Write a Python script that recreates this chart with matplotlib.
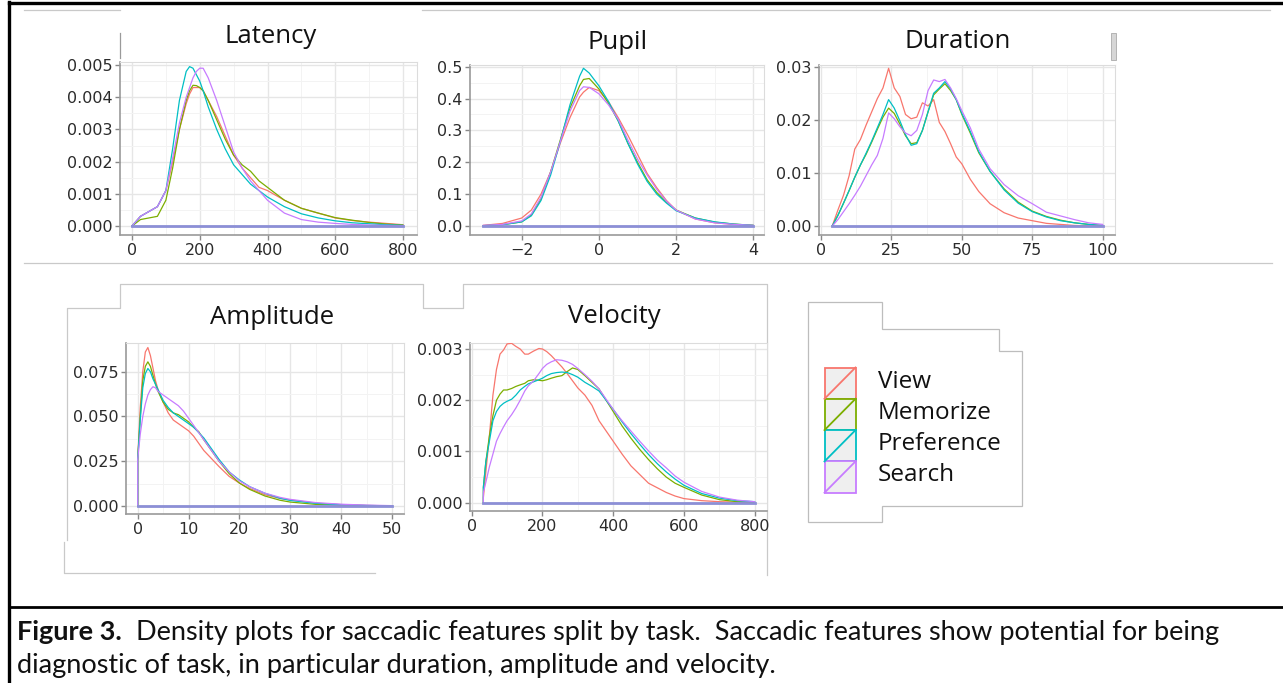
import matplotlib
matplotlib.use("Agg")
import matplotlib.pyplot as plt
from matplotlib.patches import Rectangle, Polygon
from matplotlib.lines import Line2D

W, H = 1283, 683

tasks = ["View", "Memorize", "Preference", "Search"]
task_colors = ["#F8766D", "#7CAE00", "#00BFC4", "#C77CFF"]

# ---- Latency ----
latency_x = [0, 25, 50, 75, 100, 120, 140, 160, 170, 180, 190, 200, 210, 225, 250, 275,
             300, 325, 350, 375, 400, 450, 500, 550, 600, 650, 700, 750, 800]
latency_view = [0, 0.0003, 0.00045, 0.0006, 0.0011, 0.0020, 0.0030, 0.0038, 0.0041, 0.0043,
                0.0043, 0.0043, 0.0042, 0.0039, 0.0034, 0.0028, 0.0022, 0.0018, 0.0015, 0.0012,
                0.0011, 0.0008, 0.00055, 0.0004, 0.00025, 0.00017, 0.00012, 0.00008, 0.00004]
latency_memorize = [0, 0.0002, 0.00025, 0.0003, 0.0008, 0.0018, 0.0030, 0.0039, 0.0042, 0.00437,
                    0.00436, 0.0043, 0.0042, 0.0039, 0.0033, 0.0027, 0.0022, 0.0019, 0.0017, 0.0014,
                    0.0012, 0.0008, 0.00055, 0.0004, 0.00026, 0.00018, 0.00011, 0.00006, 0.00003]
latency_preference = [0, 0.0003, 0.00045, 0.0006, 0.0011, 0.0024, 0.0039, 0.0048, 0.00495, 0.0049,
                      0.0047, 0.0045, 0.0042, 0.0037, 0.0030, 0.0024, 0.0019, 0.0016, 0.0013, 0.0011,
                      0.0009, 0.0006, 0.00038, 0.00025, 0.00016, 0.0001, 0.00007, 0.00004, 0.00002]
latency_search = [0, 0.0003, 0.00045, 0.0006, 0.0011, 0.0021, 0.0032, 0.0040, 0.0043, 0.0046,
                  0.0048, 0.0049, 0.0049, 0.0046, 0.0039, 0.0031, 0.0023, 0.0018, 0.0014, 0.0011,
                  0.0008, 0.0004, 0.0002, 0.00012, 0.00008, 0.00005, 0.00003, 0.00002, 0.00001]

# ---- Pupil ----
pupil_x = [-3, -2.5, -2, -1.75, -1.5, -1.25, -1, -0.75, -0.5, -0.4, -0.25, 0, 0.25, 0.5, 0.75,
           1, 1.25, 1.5, 1.75, 2, 2.5, 3, 3.5, 4]
pupil_view = [0.002, 0.008, 0.025, 0.05, 0.10, 0.17, 0.26, 0.34, 0.405, 0.42, 0.435, 0.425, 0.39,
              0.34, 0.285, 0.225, 0.165, 0.12, 0.08, 0.05, 0.022, 0.01, 0.005, 0.002]
pupil_memorize = [0.001, 0.004, 0.013, 0.035, 0.085, 0.17, 0.27, 0.37, 0.44, 0.46, 0.463, 0.43,
                  0.385, 0.33, 0.26, 0.2, 0.145, 0.105, 0.075, 0.05, 0.025, 0.012, 0.006, 0.002]
pupil_preference = [0.001, 0.004, 0.013, 0.032, 0.08, 0.16, 0.265, 0.38, 0.47, 0.495, 0.48, 0.44,
                    0.39, 0.33, 0.26, 0.195, 0.14, 0.1, 0.072, 0.048, 0.025, 0.013, 0.006, 0.002]
pupil_search = [0.002, 0.005, 0.016, 0.038, 0.09, 0.17, 0.265, 0.36, 0.425, 0.437, 0.435, 0.415,
                0.38, 0.335, 0.27, 0.21, 0.16, 0.115, 0.078, 0.05, 0.022, 0.01, 0.005, 0.002]

# ---- Duration ----
duration_x = [4, 6, 8, 10, 12, 14, 16, 18, 20, 22, 24, 26, 28, 30, 32, 34, 36, 38, 40, 42, 44, 46,
              48, 50, 53, 56, 60, 65, 70, 75, 80, 85, 90, 95, 100]
duration_view = [0, 0.003, 0.0058, 0.0095, 0.0145, 0.0163, 0.019, 0.0215, 0.024, 0.026, 0.0297,
                 0.026, 0.0244, 0.021, 0.0202, 0.0205, 0.0232, 0.0226, 0.0238, 0.0195, 0.0178,
                 0.0155, 0.013, 0.0117, 0.0088, 0.0065, 0.0042, 0.0025, 0.0015, 0.001, 0.0005,
                 0.0003, 0.0001, 0.00005, 0.00002]
duration_memorize = [0, 0.002, 0.0043, 0.0067, 0.0092, 0.0115, 0.0135, 0.0158, 0.0182, 0.0205,
                     0.0222, 0.0212, 0.0192, 0.017, 0.0155, 0.0157, 0.018, 0.0215, 0.0247, 0.0258,
                     0.0268, 0.0255, 0.0238, 0.021, 0.0175, 0.0138, 0.0103, 0.007, 0.0045, 0.0028,
                     0.0018, 0.0011, 0.0006, 0.0003, 0.0001]
duration_preference = [0, 0.002, 0.0043, 0.0067, 0.0092, 0.0115, 0.0137, 0.016, 0.0185, 0.021,
                       0.0238, 0.0222, 0.0198, 0.0172, 0.0152, 0.0155, 0.018, 0.0215, 0.025, 0.026,
                       0.0272, 0.0258, 0.0238, 0.0212, 0.0178, 0.014, 0.0103, 0.0068, 0.0043,
                       0.0027, 0.0017, 0.001, 0.0006, 0.0003, 0.0001]
duration_search = [0, 0.0012, 0.0027, 0.0042, 0.0058, 0.0075, 0.0095, 0.0115, 0.0133, 0.0165,
                   0.0213, 0.0202, 0.0187, 0.0175, 0.017, 0.018, 0.021, 0.0255, 0.0275, 0.0272,
                   0.0276, 0.026, 0.024, 0.0217, 0.0185, 0.0145, 0.0108, 0.0078, 0.0057, 0.0042,
                   0.0026, 0.0019, 0.0012, 0.0006, 0.0003]

# ---- Amplitude ----
amplitude_x = [0, 0.5, 1, 1.5, 2, 2.5, 3, 3.5, 4, 5, 6, 7, 8, 9, 10, 11, 12, 13, 14, 15, 16, 18,
               20, 22, 25, 28, 30, 35, 40, 45, 50]
amplitude_view = [0.026, 0.055, 0.075, 0.086, 0.0885, 0.084, 0.077, 0.07, 0.065, 0.058, 0.052,
                  0.048, 0.046, 0.044, 0.042, 0.039, 0.035, 0.031, 0.028, 0.025, 0.022, 0.0165,
                  0.0128, 0.0098, 0.0063, 0.0042, 0.0034, 0.0016, 0.0008, 0.0003, 0.0001]
amplitude_memorize = [0.026, 0.05, 0.07, 0.078, 0.0805, 0.078, 0.073, 0.068, 0.064, 0.058, 0.054,
                      0.052, 0.051, 0.049, 0.047, 0.044, 0.0415, 0.037, 0.033, 0.029, 0.025, 0.018,
                      0.0128, 0.0093, 0.0056, 0.0032, 0.0022, 0.0009, 0.0004, 0.0002, 0.00005]
amplitude_preference = [0.026, 0.048, 0.066, 0.074, 0.0768, 0.075, 0.071, 0.068, 0.065, 0.059,
                        0.055, 0.052, 0.05, 0.048, 0.046, 0.044, 0.041, 0.038, 0.034, 0.030, 0.026,
                        0.019, 0.0145, 0.0108, 0.0071, 0.0043, 0.0031, 0.0015, 0.0007, 0.0003, 0.0001]
amplitude_search = [0.026, 0.04, 0.05, 0.057, 0.062, 0.065, 0.0666, 0.066, 0.064, 0.062, 0.06,
                    0.058, 0.056, 0.053, 0.049, 0.045, 0.041, 0.037, 0.033, 0.029, 0.025, 0.019,
                    0.014, 0.0108, 0.0072, 0.0048, 0.0037, 0.0019, 0.001, 0.0005, 0.0002]

# ---- Velocity ----
velocity_x = [33, 40, 50, 60, 70, 80, 90, 100, 113, 125, 137, 150, 160, 175, 190, 200, 212, 225,
              240, 255, 270, 285, 300, 320, 340, 360, 380, 400, 425, 450, 475, 500, 525, 550, 575,
              600, 650, 700, 750, 800]
velocity_view = [0.0001, 0.0006, 0.0013, 0.0021, 0.0026, 0.0029, 0.00298, 0.0031, 0.00311, 0.00305,
                 0.003, 0.0029, 0.0029, 0.00296, 0.00301, 0.003, 0.00295, 0.00287, 0.00276, 0.00265,
                 0.00252, 0.00238, 0.00224, 0.0021, 0.0019, 0.0016, 0.0014, 0.0012, 0.00095, 0.00072,
                 0.00055, 0.00038, 0.00029, 0.0002, 0.00013, 0.00008, 0.00004, 0.00002, 0.00001,
                 0.000005]
velocity_memorize = [0.0003, 0.0008, 0.0013, 0.0017, 0.002, 0.00212, 0.0022, 0.0022, 0.00223,
                     0.00227, 0.0023, 0.00233, 0.00238, 0.0024, 0.00239, 0.00238, 0.0024, 0.00243,
                     0.00246, 0.00248, 0.00256, 0.00263, 0.0026, 0.00248, 0.00235, 0.00222, 0.002,
                     0.00178, 0.0015, 0.00126, 0.00104, 0.00084, 0.00066, 0.0005, 0.00038, 0.0003,
                     0.00015, 0.00006, 0.00002, 0.00001]
velocity_preference = [0.0003, 0.0008, 0.0012, 0.0016, 0.00178, 0.00188, 0.00194, 0.00198, 0.00202,
                       0.0021, 0.0022, 0.00227, 0.00232, 0.00236, 0.0024, 0.00243, 0.00248, 0.00252,
                       0.00254, 0.00255, 0.00254, 0.0025, 0.00245, 0.00235, 0.00227, 0.00218, 0.002,
                       0.00182, 0.00158, 0.00135, 0.00114, 0.00094, 0.00076, 0.0006, 0.00046,
                       0.00034, 0.00018, 0.00009, 0.00004, 0.00002]
velocity_search = [0.0002, 0.0004, 0.0007, 0.00095, 0.0012, 0.00135, 0.00148, 0.0016, 0.00172,
                   0.00185, 0.002, 0.00218, 0.00228, 0.00238, 0.00252, 0.00262, 0.0027, 0.00275,
                   0.00279, 0.00278, 0.00275, 0.0027, 0.00262, 0.0025, 0.00237, 0.00222, 0.00202,
                   0.00182, 0.0016, 0.0014, 0.0012, 0.00101, 0.00083, 0.00068, 0.00052, 0.0004,
                   0.00022, 0.00011, 0.00005, 0.00002]

latency_xticks = [0, 200, 400, 600, 800]
latency_yticks = [0.0, 0.001, 0.002, 0.003, 0.004, 0.005]
pupil_xticks = [-2, 0, 2, 4]
pupil_yticks = [0.0, 0.1, 0.2, 0.3, 0.4, 0.5]
duration_xticks = [0, 25, 50, 75, 100]
duration_yticks = [0.0, 0.01, 0.02, 0.03]
amplitude_xticks = [0, 10, 20, 30, 40, 50]
amplitude_yticks = [0.0, 0.025, 0.05, 0.075]
velocity_xticks = [0, 200, 400, 600, 800]
velocity_yticks = [0.0, 0.001, 0.002, 0.003]

caption_bold = "Figure 3."
caption_line1 = "  Density plots for saccadic features split by task.  Saccadic features show potential for being"
caption_line2 = "diagnostic of task, in particular duration, amplitude and velocity."

TITLE_FONT = ["Open Sans", "DejaVu Sans"]
TICK_FONT = "DejaVu Sans"
CAP_FONT = ["Lato", "DejaVu Sans"]

fig = plt.figure(figsize=(W / 100, H / 100), dpi=100)
fig.patch.set_facecolor("white")

# overlay axes in pixel coordinates for the page decorations
deco = fig.add_axes([0, 0, 1, 1], zorder=0)
deco.set_xlim(0, W)
deco.set_ylim(H, 0)
deco.axis("off")
deco.patch.set_visible(False)


def lerp(v, v1, p1, v2, p2):
    return p1 + (v - v1) * (p2 - p1) / (v2 - v1)


def make_panel(rect, xmap, ymap):
    left, top, right, bottom = rect
    ax = fig.add_axes([left / W, 1 - bottom / H, (right - left) / W, (bottom - top) / H], zorder=2)
    # pixel edges -> data limits
    ax.set_xlim(lerp(left, xmap[1], xmap[0], xmap[3], xmap[2]),
                lerp(right, xmap[1], xmap[0], xmap[3], xmap[2]))
    ax.set_ylim(lerp(bottom, ymap[1], ymap[0], ymap[3], ymap[2]),
                lerp(top, ymap[1], ymap[0], ymap[3], ymap[2]))
    return ax


def style_panel(ax, xticks, xlabels, yticks, ylabels):
    ax.set_facecolor("white")
    ax.set_xticks(xticks)
    ax.set_xticklabels(xlabels)
    ax.set_yticks(yticks)
    ax.set_yticklabels(ylabels)
    xm = [(a + b) / 2 for a, b in zip(xticks[:-1], xticks[1:])]
    ym = [(a + b) / 2 for a, b in zip(yticks[:-1], yticks[1:])]
    ax.set_xticks(xm, minor=True)
    ax.set_yticks(ym, minor=True)
    ax.grid(which="major", color="#e6e6e6", lw=1.0, zorder=0)
    ax.grid(which="minor", color="#f3f3f3", lw=0.7, zorder=0)
    ax.set_axisbelow(True)
    ax.tick_params(which="minor", length=0)
    ax.tick_params(which="major", direction="out", length=3.5, width=1, color="#888888",
                   labelsize=11.5, labelcolor="#2b2b2b", pad=2)
    for lab in ax.get_xticklabels() + ax.get_yticklabels():
        lab.set_family(TICK_FONT)
    for s in ("left", "bottom"):
        ax.spines[s].set_color("#9a9a9a")
        ax.spines[s].set_linewidth(1.2)
    for s in ("top", "right"):
        ax.spines[s].set_color("#dcdcdc")
        ax.spines[s].set_linewidth(0.8)


def draw_densities(ax, xs, series):
    for ys, col in zip(series, task_colors):
        ax.plot([xs[0]] + list(xs) + [xs[-1]], [0] + list(ys) + [0], color=col, lw=0.9,
                solid_joinstyle="round", zorder=3)
    ax.plot([xs[0], xs[-1]], [0, 0], color="#8c8fd6", lw=2.0, zorder=4)


panels = [
    ("Latency", (120, 62, 417, 235), (0, 132, 800, 403), (0, 226, 0.005, 65),
     latency_x, [latency_view, latency_memorize, latency_preference, latency_search],
     latency_xticks, [str(v) for v in latency_xticks],
     latency_yticks, ["%.3f" % v for v in latency_yticks], (271, 43)),
    ("Pupil", (470, 65, 764, 235), (-2, 521.7, 4, 753.3), (0, 226, 0.5, 66.7),
     pupil_x, [pupil_view, pupil_memorize, pupil_preference, pupil_search],
     pupil_xticks, [str(v).replace("-", "\u2212") for v in pupil_xticks],
     pupil_yticks, ["%.1f" % v for v in pupil_yticks], (618, 49)),
    ("Duration", (819, 65, 1115, 235), (0, 821, 100, 1102.7), (0, 226, 0.03, 66.7),
     duration_x, [duration_view, duration_memorize, duration_preference, duration_search],
     duration_xticks, [str(v) for v in duration_xticks],
     duration_yticks, ["%.2f" % v for v in duration_yticks], (958, 48)),
    ("Amplitude", (126, 343, 404, 514), (0, 137.7, 50, 392), (0, 506, 0.075, 371.7),
     amplitude_x, [amplitude_view, amplitude_memorize, amplitude_preference, amplitude_search],
     amplitude_xticks, [str(v) for v in amplitude_xticks],
     amplitude_yticks, ["%.3f" % v for v in amplitude_yticks], (272, 324)),
    ("Velocity", (470, 343, 767, 511), (0, 471.7, 800, 754.7), (0, 502.7, 0.003, 349),
     velocity_x, [velocity_view, velocity_memorize, velocity_preference, velocity_search],
     velocity_xticks, [str(v) for v in velocity_xticks],
     velocity_yticks, ["%.3f" % v for v in velocity_yticks], (614, 323)),
]

for title, rect, xmap, ymap, xs, series, xt, xl, yt, yl, tpos in panels:
    ax = make_panel(rect, xmap, ymap)
    style_panel(ax, xt, xl, yt, yl)
    draw_densities(ax, xs, series)
    deco.text(tpos[0], tpos[1], title, family=TITLE_FONT, fontsize=18.5, ha="center",
              va="baseline", color="#111111")

# page frame (black rules)
deco.add_line(Line2D([9, W], [3, 3], color="black", lw=2.4))
deco.add_line(Line2D([9, 9], [2, H], color="black", lw=2.4))
deco.add_line(Line2D([9, W], [607, 607], color="black", lw=2.0))

# faint picture frames
gray = "#c9c9c9"
deco.add_line(Line2D([24, 120], [10, 10], color=gray, lw=0.9))
deco.add_line(Line2D([422, 1270], [10, 10], color=gray, lw=0.9))
deco.add_line(Line2D([24, 1272], [263, 263], color=gray, lw=0.9))
deco.add_line(Line2D([120, 120], [33, 58], color="#9a9a9a", lw=0.9))
deco.add_patch(Rectangle((1111, 33), 5, 27, facecolor="#d6d6d6", edgecolor="#aaaaaa", lw=0.6))
deco.add_line(Line2D([67, 67, 120, 120, 423, 423, 463, 463, 767, 767],
                     [540, 308, 308, 284, 284, 308, 308, 284, 284, 575], color=gray, lw=0.9))
deco.add_line(Line2D([64, 64, 375], [542, 573, 573], color=gray, lw=0.9))

# legend box
leg_x = [807.7, 881.7, 881.7, 999.3, 999.3, 1022.3, 1022.3, 881.7, 881.7, 807.7]
leg_y = [302.3, 302.3, 329.3, 329.3, 351, 351, 506, 506, 522.3, 522.3]
deco.add_patch(Polygon(list(zip(leg_x, leg_y)), closed=True, facecolor="white", edgecolor="#bdbdbd",
                       lw=0.9))
key_top = 367.5
key_h = 31.3
for i, (name, col) in enumerate(zip(tasks, task_colors)):
    y0 = key_top + i * key_h
    deco.add_patch(Rectangle((824.5, y0), 31, key_h, facecolor="#efefef", edgecolor=col, lw=1.3,
                             zorder=3))
    deco.add_line(Line2D([824.5, 855.5], [y0 + key_h, y0], color=col, lw=1.3, zorder=4))
    deco.text(878, y0 + 20, name, family=TITLE_FONT, fontsize=17.5, ha="left", va="baseline",
              color="#111111")

# caption: size the font so the first line spans the same width as in the source page
fig.canvas.draw()
renderer = fig.canvas.get_renderer()
probe_b = deco.text(0, 0, caption_bold, family=CAP_FONT, fontsize=16, weight="bold")
probe_r = deco.text(0, 0, caption_line1, family=CAP_FONT, fontsize=16)
w16 = (probe_b.get_window_extent(renderer=renderer).width
       + probe_r.get_window_extent(renderer=renderer).width)
probe_b.remove()
probe_r.remove()
cap_size = 16 * (1227 - 17) / w16

tb = deco.text(17, 640, caption_bold, family=CAP_FONT, fontsize=cap_size, weight="bold",
               ha="left", va="baseline", color="#111111")
bb = tb.get_window_extent(renderer=renderer)
deco.text(bb.x1, 640, caption_line1, family=CAP_FONT, fontsize=cap_size, ha="left",
          va="baseline", color="#111111")
deco.text(17, 673, caption_line2, family=CAP_FONT, fontsize=cap_size, ha="left", va="baseline",
          color="#111111")

fig.savefig("out.png", dpi=100, facecolor="white")
